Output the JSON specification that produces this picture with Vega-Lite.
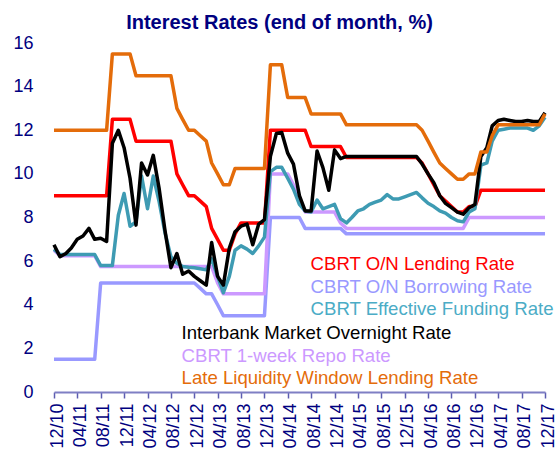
{
  "$schema": "https://vega.github.io/schema/vega-lite/v6.json",
  "width": 491,
  "height": 349,
  "autosize": "none",
  "padding": {"left": 54, "top": 43, "right": 13, "bottom": 63},
  "background": "white",
  "title": {"text": "Interest Rates (end of month, %)", "font": "Liberation Sans", "fontSize": 20, "fontWeight": "bold", "color": "#000080", "anchor": "middle", "frame": "group", "dx": -20, "offset": 1},
  "data": {"values": [
    {"date": "2010-12", "CBRT O/N Lending Rate": 9, "CBRT O/N Borrowing Rate": 1.5, "CBRT Effective Funding Rate": 6.55, "Interbank Market Overnight Rate": 6.75, "CBRT 1-week Repo Rate": 6.5, "Late Liquidity Window Lending Rate": 12},
    {"date": "2011-01", "CBRT O/N Lending Rate": 9, "CBRT O/N Borrowing Rate": 1.5, "CBRT Effective Funding Rate": 6.3, "Interbank Market Overnight Rate": 6.2, "CBRT 1-week Repo Rate": 6.25, "Late Liquidity Window Lending Rate": 12},
    {"date": "2011-02", "CBRT O/N Lending Rate": 9, "CBRT O/N Borrowing Rate": 1.5, "CBRT Effective Funding Rate": 6.3, "Interbank Market Overnight Rate": 6.35, "CBRT 1-week Repo Rate": 6.25, "Late Liquidity Window Lending Rate": 12},
    {"date": "2011-03", "CBRT O/N Lending Rate": 9, "CBRT O/N Borrowing Rate": 1.5, "CBRT Effective Funding Rate": 6.3, "Interbank Market Overnight Rate": 6.6, "CBRT 1-week Repo Rate": 6.25, "Late Liquidity Window Lending Rate": 12},
    {"date": "2011-04", "CBRT O/N Lending Rate": 9, "CBRT O/N Borrowing Rate": 1.5, "CBRT Effective Funding Rate": 6.3, "Interbank Market Overnight Rate": 7.0, "CBRT 1-week Repo Rate": 6.25, "Late Liquidity Window Lending Rate": 12},
    {"date": "2011-05", "CBRT O/N Lending Rate": 9, "CBRT O/N Borrowing Rate": 1.5, "CBRT Effective Funding Rate": 6.3, "Interbank Market Overnight Rate": 7.15, "CBRT 1-week Repo Rate": 6.25, "Late Liquidity Window Lending Rate": 12},
    {"date": "2011-06", "CBRT O/N Lending Rate": 9, "CBRT O/N Borrowing Rate": 1.5, "CBRT Effective Funding Rate": 6.3, "Interbank Market Overnight Rate": 7.5, "CBRT 1-week Repo Rate": 6.25, "Late Liquidity Window Lending Rate": 12},
    {"date": "2011-07", "CBRT O/N Lending Rate": 9, "CBRT O/N Borrowing Rate": 1.5, "CBRT Effective Funding Rate": 6.3, "Interbank Market Overnight Rate": 7.0, "CBRT 1-week Repo Rate": 6.25, "Late Liquidity Window Lending Rate": 12},
    {"date": "2011-08", "CBRT O/N Lending Rate": 9, "CBRT O/N Borrowing Rate": 5, "CBRT Effective Funding Rate": 5.8, "Interbank Market Overnight Rate": 7.05, "CBRT 1-week Repo Rate": 5.75, "Late Liquidity Window Lending Rate": 12},
    {"date": "2011-09", "CBRT O/N Lending Rate": 9, "CBRT O/N Borrowing Rate": 5, "CBRT Effective Funding Rate": 5.8, "Interbank Market Overnight Rate": 6.9, "CBRT 1-week Repo Rate": 5.75, "Late Liquidity Window Lending Rate": 12},
    {"date": "2011-10", "CBRT O/N Lending Rate": 12.5, "CBRT O/N Borrowing Rate": 5, "CBRT Effective Funding Rate": 5.8, "Interbank Market Overnight Rate": 11.4, "CBRT 1-week Repo Rate": 5.75, "Late Liquidity Window Lending Rate": 15.5},
    {"date": "2011-11", "CBRT O/N Lending Rate": 12.5, "CBRT O/N Borrowing Rate": 5, "CBRT Effective Funding Rate": 8.1, "Interbank Market Overnight Rate": 12.0, "CBRT 1-week Repo Rate": 5.75, "Late Liquidity Window Lending Rate": 15.5},
    {"date": "2011-12", "CBRT O/N Lending Rate": 12.5, "CBRT O/N Borrowing Rate": 5, "CBRT Effective Funding Rate": 9.1, "Interbank Market Overnight Rate": 11.2, "CBRT 1-week Repo Rate": 5.75, "Late Liquidity Window Lending Rate": 15.5},
    {"date": "2012-01", "CBRT O/N Lending Rate": 12.5, "CBRT O/N Borrowing Rate": 5, "CBRT Effective Funding Rate": 7.6, "Interbank Market Overnight Rate": 9.8, "CBRT 1-week Repo Rate": 5.75, "Late Liquidity Window Lending Rate": 15.5},
    {"date": "2012-02", "CBRT O/N Lending Rate": 11.5, "CBRT O/N Borrowing Rate": 5, "CBRT Effective Funding Rate": 7.8, "Interbank Market Overnight Rate": 7.65, "CBRT 1-week Repo Rate": 5.75, "Late Liquidity Window Lending Rate": 14.5},
    {"date": "2012-03", "CBRT O/N Lending Rate": 11.5, "CBRT O/N Borrowing Rate": 5, "CBRT Effective Funding Rate": 9.9, "Interbank Market Overnight Rate": 10.5, "CBRT 1-week Repo Rate": 5.75, "Late Liquidity Window Lending Rate": 14.5},
    {"date": "2012-04", "CBRT O/N Lending Rate": 11.5, "CBRT O/N Borrowing Rate": 5, "CBRT Effective Funding Rate": 8.4, "Interbank Market Overnight Rate": 9.95, "CBRT 1-week Repo Rate": 5.75, "Late Liquidity Window Lending Rate": 14.5},
    {"date": "2012-05", "CBRT O/N Lending Rate": 11.5, "CBRT O/N Borrowing Rate": 5, "CBRT Effective Funding Rate": 9.9, "Interbank Market Overnight Rate": 10.85, "CBRT 1-week Repo Rate": 5.75, "Late Liquidity Window Lending Rate": 14.5},
    {"date": "2012-06", "CBRT O/N Lending Rate": 11.5, "CBRT O/N Borrowing Rate": 5, "CBRT Effective Funding Rate": 8.7, "Interbank Market Overnight Rate": 9.3, "CBRT 1-week Repo Rate": 5.75, "Late Liquidity Window Lending Rate": 14.5},
    {"date": "2012-07", "CBRT O/N Lending Rate": 11.5, "CBRT O/N Borrowing Rate": 5, "CBRT Effective Funding Rate": 7.3, "Interbank Market Overnight Rate": 7.4, "CBRT 1-week Repo Rate": 5.75, "Late Liquidity Window Lending Rate": 14.5},
    {"date": "2012-08", "CBRT O/N Lending Rate": 11.5, "CBRT O/N Borrowing Rate": 5, "CBRT Effective Funding Rate": 6.2, "Interbank Market Overnight Rate": 5.7, "CBRT 1-week Repo Rate": 5.75, "Late Liquidity Window Lending Rate": 14.5},
    {"date": "2012-09", "CBRT O/N Lending Rate": 10, "CBRT O/N Borrowing Rate": 5, "CBRT Effective Funding Rate": 5.9, "Interbank Market Overnight Rate": 6.35, "CBRT 1-week Repo Rate": 5.75, "Late Liquidity Window Lending Rate": 13},
    {"date": "2012-10", "CBRT O/N Lending Rate": 9.5, "CBRT O/N Borrowing Rate": 5, "CBRT Effective Funding Rate": 5.75, "Interbank Market Overnight Rate": 5.4, "CBRT 1-week Repo Rate": 5.75, "Late Liquidity Window Lending Rate": 12.5},
    {"date": "2012-11", "CBRT O/N Lending Rate": 9, "CBRT O/N Borrowing Rate": 5, "CBRT Effective Funding Rate": 5.72, "Interbank Market Overnight Rate": 5.55, "CBRT 1-week Repo Rate": 5.75, "Late Liquidity Window Lending Rate": 12},
    {"date": "2012-12", "CBRT O/N Lending Rate": 9, "CBRT O/N Borrowing Rate": 5, "CBRT Effective Funding Rate": 5.7, "Interbank Market Overnight Rate": 5.3, "CBRT 1-week Repo Rate": 5.75, "Late Liquidity Window Lending Rate": 12},
    {"date": "2013-01", "CBRT O/N Lending Rate": 8.75, "CBRT O/N Borrowing Rate": 4.75, "CBRT Effective Funding Rate": 5.65, "Interbank Market Overnight Rate": 5.1, "CBRT 1-week Repo Rate": 5.75, "Late Liquidity Window Lending Rate": 11.75},
    {"date": "2013-02", "CBRT O/N Lending Rate": 8.5, "CBRT O/N Borrowing Rate": 4.5, "CBRT Effective Funding Rate": 5.6, "Interbank Market Overnight Rate": 4.9, "CBRT 1-week Repo Rate": 5.75, "Late Liquidity Window Lending Rate": 11.5},
    {"date": "2013-03", "CBRT O/N Lending Rate": 7.5, "CBRT O/N Borrowing Rate": 4.5, "CBRT Effective Funding Rate": 6.1, "Interbank Market Overnight Rate": 6.85, "CBRT 1-week Repo Rate": 5.75, "Late Liquidity Window Lending Rate": 10.5},
    {"date": "2013-04", "CBRT O/N Lending Rate": 7, "CBRT O/N Borrowing Rate": 4, "CBRT Effective Funding Rate": 5.3, "Interbank Market Overnight Rate": 5.3, "CBRT 1-week Repo Rate": 5.0, "Late Liquidity Window Lending Rate": 10},
    {"date": "2013-05", "CBRT O/N Lending Rate": 6.5, "CBRT O/N Borrowing Rate": 3.5, "CBRT Effective Funding Rate": 4.55, "Interbank Market Overnight Rate": 4.9, "CBRT 1-week Repo Rate": 4.5, "Late Liquidity Window Lending Rate": 9.5},
    {"date": "2013-06", "CBRT O/N Lending Rate": 6.5, "CBRT O/N Borrowing Rate": 3.5, "CBRT Effective Funding Rate": 5.3, "Interbank Market Overnight Rate": 6.6, "CBRT 1-week Repo Rate": 4.5, "Late Liquidity Window Lending Rate": 9.5},
    {"date": "2013-07", "CBRT O/N Lending Rate": 7.25, "CBRT O/N Borrowing Rate": 3.5, "CBRT Effective Funding Rate": 6.5, "Interbank Market Overnight Rate": 7.35, "CBRT 1-week Repo Rate": 4.5, "Late Liquidity Window Lending Rate": 10.25},
    {"date": "2013-08", "CBRT O/N Lending Rate": 7.75, "CBRT O/N Borrowing Rate": 3.5, "CBRT Effective Funding Rate": 6.7, "Interbank Market Overnight Rate": 7.6, "CBRT 1-week Repo Rate": 4.5, "Late Liquidity Window Lending Rate": 10.25},
    {"date": "2013-09", "CBRT O/N Lending Rate": 7.75, "CBRT O/N Borrowing Rate": 3.5, "CBRT Effective Funding Rate": 6.55, "Interbank Market Overnight Rate": 7.7, "CBRT 1-week Repo Rate": 4.5, "Late Liquidity Window Lending Rate": 10.25},
    {"date": "2013-10", "CBRT O/N Lending Rate": 7.75, "CBRT O/N Borrowing Rate": 3.5, "CBRT Effective Funding Rate": 6.35, "Interbank Market Overnight Rate": 6.75, "CBRT 1-week Repo Rate": 4.5, "Late Liquidity Window Lending Rate": 10.25},
    {"date": "2013-11", "CBRT O/N Lending Rate": 7.75, "CBRT O/N Borrowing Rate": 3.5, "CBRT Effective Funding Rate": 6.7, "Interbank Market Overnight Rate": 7.7, "CBRT 1-week Repo Rate": 4.5, "Late Liquidity Window Lending Rate": 10.25},
    {"date": "2013-12", "CBRT O/N Lending Rate": 7.75, "CBRT O/N Borrowing Rate": 3.5, "CBRT Effective Funding Rate": 7.1, "Interbank Market Overnight Rate": 7.9, "CBRT 1-week Repo Rate": 4.5, "Late Liquidity Window Lending Rate": 10.25},
    {"date": "2014-01", "CBRT O/N Lending Rate": 12, "CBRT O/N Borrowing Rate": 8, "CBRT Effective Funding Rate": 10.1, "Interbank Market Overnight Rate": 10.8, "CBRT 1-week Repo Rate": 10, "Late Liquidity Window Lending Rate": 15},
    {"date": "2014-02", "CBRT O/N Lending Rate": 12, "CBRT O/N Borrowing Rate": 8, "CBRT Effective Funding Rate": 10.3, "Interbank Market Overnight Rate": 11.85, "CBRT 1-week Repo Rate": 10, "Late Liquidity Window Lending Rate": 15},
    {"date": "2014-03", "CBRT O/N Lending Rate": 12, "CBRT O/N Borrowing Rate": 8, "CBRT Effective Funding Rate": 10.3, "Interbank Market Overnight Rate": 11.9, "CBRT 1-week Repo Rate": 10, "Late Liquidity Window Lending Rate": 15},
    {"date": "2014-04", "CBRT O/N Lending Rate": 12, "CBRT O/N Borrowing Rate": 8, "CBRT Effective Funding Rate": 9.8, "Interbank Market Overnight Rate": 10.95, "CBRT 1-week Repo Rate": 10, "Late Liquidity Window Lending Rate": 13.5},
    {"date": "2014-05", "CBRT O/N Lending Rate": 12, "CBRT O/N Borrowing Rate": 8, "CBRT Effective Funding Rate": 9.3, "Interbank Market Overnight Rate": 10.45, "CBRT 1-week Repo Rate": 9.5, "Late Liquidity Window Lending Rate": 13.5},
    {"date": "2014-06", "CBRT O/N Lending Rate": 12, "CBRT O/N Borrowing Rate": 8, "CBRT Effective Funding Rate": 8.6, "Interbank Market Overnight Rate": 9.0, "CBRT 1-week Repo Rate": 8.75, "Late Liquidity Window Lending Rate": 13.5},
    {"date": "2014-07", "CBRT O/N Lending Rate": 12, "CBRT O/N Borrowing Rate": 7.5, "CBRT Effective Funding Rate": 8.3, "Interbank Market Overnight Rate": 8.3, "CBRT 1-week Repo Rate": 8.25, "Late Liquidity Window Lending Rate": 13.5},
    {"date": "2014-08", "CBRT O/N Lending Rate": 11.25, "CBRT O/N Borrowing Rate": 7.5, "CBRT Effective Funding Rate": 8.25, "Interbank Market Overnight Rate": 8.3, "CBRT 1-week Repo Rate": 8.25, "Late Liquidity Window Lending Rate": 12.75},
    {"date": "2014-09", "CBRT O/N Lending Rate": 11.25, "CBRT O/N Borrowing Rate": 7.5, "CBRT Effective Funding Rate": 8.8, "Interbank Market Overnight Rate": 11.05, "CBRT 1-week Repo Rate": 8.25, "Late Liquidity Window Lending Rate": 12.75},
    {"date": "2014-10", "CBRT O/N Lending Rate": 11.25, "CBRT O/N Borrowing Rate": 7.5, "CBRT Effective Funding Rate": 8.4, "Interbank Market Overnight Rate": 10.3, "CBRT 1-week Repo Rate": 8.25, "Late Liquidity Window Lending Rate": 12.75},
    {"date": "2014-11", "CBRT O/N Lending Rate": 11.25, "CBRT O/N Borrowing Rate": 7.5, "CBRT Effective Funding Rate": 8.5, "Interbank Market Overnight Rate": 9.25, "CBRT 1-week Repo Rate": 8.25, "Late Liquidity Window Lending Rate": 12.75},
    {"date": "2014-12", "CBRT O/N Lending Rate": 11.25, "CBRT O/N Borrowing Rate": 7.5, "CBRT Effective Funding Rate": 8.6, "Interbank Market Overnight Rate": 11.1, "CBRT 1-week Repo Rate": 8.25, "Late Liquidity Window Lending Rate": 12.75},
    {"date": "2015-01", "CBRT O/N Lending Rate": 11.25, "CBRT O/N Borrowing Rate": 7.5, "CBRT Effective Funding Rate": 7.95, "Interbank Market Overnight Rate": 10.7, "CBRT 1-week Repo Rate": 7.75, "Late Liquidity Window Lending Rate": 12.75},
    {"date": "2015-02", "CBRT O/N Lending Rate": 10.75, "CBRT O/N Borrowing Rate": 7.25, "CBRT Effective Funding Rate": 7.75, "Interbank Market Overnight Rate": 10.8, "CBRT 1-week Repo Rate": 7.5, "Late Liquidity Window Lending Rate": 12.25},
    {"date": "2015-03", "CBRT O/N Lending Rate": 10.75, "CBRT O/N Borrowing Rate": 7.25, "CBRT Effective Funding Rate": 8.0, "Interbank Market Overnight Rate": 10.8, "CBRT 1-week Repo Rate": 7.5, "Late Liquidity Window Lending Rate": 12.25},
    {"date": "2015-04", "CBRT O/N Lending Rate": 10.75, "CBRT O/N Borrowing Rate": 7.25, "CBRT Effective Funding Rate": 8.3, "Interbank Market Overnight Rate": 10.8, "CBRT 1-week Repo Rate": 7.5, "Late Liquidity Window Lending Rate": 12.25},
    {"date": "2015-05", "CBRT O/N Lending Rate": 10.75, "CBRT O/N Borrowing Rate": 7.25, "CBRT Effective Funding Rate": 8.4, "Interbank Market Overnight Rate": 10.8, "CBRT 1-week Repo Rate": 7.5, "Late Liquidity Window Lending Rate": 12.25},
    {"date": "2015-06", "CBRT O/N Lending Rate": 10.75, "CBRT O/N Borrowing Rate": 7.25, "CBRT Effective Funding Rate": 8.6, "Interbank Market Overnight Rate": 10.8, "CBRT 1-week Repo Rate": 7.5, "Late Liquidity Window Lending Rate": 12.25},
    {"date": "2015-07", "CBRT O/N Lending Rate": 10.75, "CBRT O/N Borrowing Rate": 7.25, "CBRT Effective Funding Rate": 8.7, "Interbank Market Overnight Rate": 10.8, "CBRT 1-week Repo Rate": 7.5, "Late Liquidity Window Lending Rate": 12.25},
    {"date": "2015-08", "CBRT O/N Lending Rate": 10.75, "CBRT O/N Borrowing Rate": 7.25, "CBRT Effective Funding Rate": 8.8, "Interbank Market Overnight Rate": 10.8, "CBRT 1-week Repo Rate": 7.5, "Late Liquidity Window Lending Rate": 12.25},
    {"date": "2015-09", "CBRT O/N Lending Rate": 10.75, "CBRT O/N Borrowing Rate": 7.25, "CBRT Effective Funding Rate": 9.05, "Interbank Market Overnight Rate": 10.8, "CBRT 1-week Repo Rate": 7.5, "Late Liquidity Window Lending Rate": 12.25},
    {"date": "2015-10", "CBRT O/N Lending Rate": 10.75, "CBRT O/N Borrowing Rate": 7.25, "CBRT Effective Funding Rate": 8.85, "Interbank Market Overnight Rate": 10.8, "CBRT 1-week Repo Rate": 7.5, "Late Liquidity Window Lending Rate": 12.25},
    {"date": "2015-11", "CBRT O/N Lending Rate": 10.75, "CBRT O/N Borrowing Rate": 7.25, "CBRT Effective Funding Rate": 8.85, "Interbank Market Overnight Rate": 10.8, "CBRT 1-week Repo Rate": 7.5, "Late Liquidity Window Lending Rate": 12.25},
    {"date": "2015-12", "CBRT O/N Lending Rate": 10.75, "CBRT O/N Borrowing Rate": 7.25, "CBRT Effective Funding Rate": 8.95, "Interbank Market Overnight Rate": 10.8, "CBRT 1-week Repo Rate": 7.5, "Late Liquidity Window Lending Rate": 12.25},
    {"date": "2016-01", "CBRT O/N Lending Rate": 10.75, "CBRT O/N Borrowing Rate": 7.25, "CBRT Effective Funding Rate": 9.05, "Interbank Market Overnight Rate": 10.8, "CBRT 1-week Repo Rate": 7.5, "Late Liquidity Window Lending Rate": 12.25},
    {"date": "2016-02", "CBRT O/N Lending Rate": 10.75, "CBRT O/N Borrowing Rate": 7.25, "CBRT Effective Funding Rate": 9.15, "Interbank Market Overnight Rate": 10.8, "CBRT 1-week Repo Rate": 7.5, "Late Liquidity Window Lending Rate": 12.25},
    {"date": "2016-03", "CBRT O/N Lending Rate": 10.5, "CBRT O/N Borrowing Rate": 7.25, "CBRT Effective Funding Rate": 8.9, "Interbank Market Overnight Rate": 10.45, "CBRT 1-week Repo Rate": 7.5, "Late Liquidity Window Lending Rate": 12},
    {"date": "2016-04", "CBRT O/N Lending Rate": 10, "CBRT O/N Borrowing Rate": 7.25, "CBRT Effective Funding Rate": 8.65, "Interbank Market Overnight Rate": 10.0, "CBRT 1-week Repo Rate": 7.5, "Late Liquidity Window Lending Rate": 11.5},
    {"date": "2016-05", "CBRT O/N Lending Rate": 9.5, "CBRT O/N Borrowing Rate": 7.25, "CBRT Effective Funding Rate": 8.5, "Interbank Market Overnight Rate": 9.6, "CBRT 1-week Repo Rate": 7.5, "Late Liquidity Window Lending Rate": 11},
    {"date": "2016-06", "CBRT O/N Lending Rate": 9, "CBRT O/N Borrowing Rate": 7.25, "CBRT Effective Funding Rate": 8.3, "Interbank Market Overnight Rate": 9.0, "CBRT 1-week Repo Rate": 7.5, "Late Liquidity Window Lending Rate": 10.5},
    {"date": "2016-07", "CBRT O/N Lending Rate": 8.75, "CBRT O/N Borrowing Rate": 7.25, "CBRT Effective Funding Rate": 8.2, "Interbank Market Overnight Rate": 8.65, "CBRT 1-week Repo Rate": 7.5, "Late Liquidity Window Lending Rate": 10.25},
    {"date": "2016-08", "CBRT O/N Lending Rate": 8.5, "CBRT O/N Borrowing Rate": 7.25, "CBRT Effective Funding Rate": 8.0, "Interbank Market Overnight Rate": 8.45, "CBRT 1-week Repo Rate": 7.5, "Late Liquidity Window Lending Rate": 10},
    {"date": "2016-09", "CBRT O/N Lending Rate": 8.25, "CBRT O/N Borrowing Rate": 7.25, "CBRT Effective Funding Rate": 7.85, "Interbank Market Overnight Rate": 8.25, "CBRT 1-week Repo Rate": 7.5, "Late Liquidity Window Lending Rate": 9.75},
    {"date": "2016-10", "CBRT O/N Lending Rate": 8.25, "CBRT O/N Borrowing Rate": 7.25, "CBRT Effective Funding Rate": 7.8, "Interbank Market Overnight Rate": 8.15, "CBRT 1-week Repo Rate": 7.5, "Late Liquidity Window Lending Rate": 9.75},
    {"date": "2016-11", "CBRT O/N Lending Rate": 8.5, "CBRT O/N Borrowing Rate": 7.25, "CBRT Effective Funding Rate": 8.25, "Interbank Market Overnight Rate": 8.45, "CBRT 1-week Repo Rate": 8, "Late Liquidity Window Lending Rate": 10},
    {"date": "2016-12", "CBRT O/N Lending Rate": 8.5, "CBRT O/N Borrowing Rate": 7.25, "CBRT Effective Funding Rate": 8.4, "Interbank Market Overnight Rate": 8.6, "CBRT 1-week Repo Rate": 8, "Late Liquidity Window Lending Rate": 10},
    {"date": "2017-01", "CBRT O/N Lending Rate": 9.25, "CBRT O/N Borrowing Rate": 7.25, "CBRT Effective Funding Rate": 10.4, "Interbank Market Overnight Rate": 10.8, "CBRT 1-week Repo Rate": 8, "Late Liquidity Window Lending Rate": 11},
    {"date": "2017-02", "CBRT O/N Lending Rate": 9.25, "CBRT O/N Borrowing Rate": 7.25, "CBRT Effective Funding Rate": 10.5, "Interbank Market Overnight Rate": 11.2, "CBRT 1-week Repo Rate": 8, "Late Liquidity Window Lending Rate": 11},
    {"date": "2017-03", "CBRT O/N Lending Rate": 9.25, "CBRT O/N Borrowing Rate": 7.25, "CBRT Effective Funding Rate": 11.5, "Interbank Market Overnight Rate": 12.2, "CBRT 1-week Repo Rate": 8, "Late Liquidity Window Lending Rate": 11.75},
    {"date": "2017-04", "CBRT O/N Lending Rate": 9.25, "CBRT O/N Borrowing Rate": 7.25, "CBRT Effective Funding Rate": 12.0, "Interbank Market Overnight Rate": 12.45, "CBRT 1-week Repo Rate": 8, "Late Liquidity Window Lending Rate": 12.25},
    {"date": "2017-05", "CBRT O/N Lending Rate": 9.25, "CBRT O/N Borrowing Rate": 7.25, "CBRT Effective Funding Rate": 12.05, "Interbank Market Overnight Rate": 12.5, "CBRT 1-week Repo Rate": 8, "Late Liquidity Window Lending Rate": 12.25},
    {"date": "2017-06", "CBRT O/N Lending Rate": 9.25, "CBRT O/N Borrowing Rate": 7.25, "CBRT Effective Funding Rate": 12.1, "Interbank Market Overnight Rate": 12.45, "CBRT 1-week Repo Rate": 8, "Late Liquidity Window Lending Rate": 12.25},
    {"date": "2017-07", "CBRT O/N Lending Rate": 9.25, "CBRT O/N Borrowing Rate": 7.25, "CBRT Effective Funding Rate": 12.1, "Interbank Market Overnight Rate": 12.4, "CBRT 1-week Repo Rate": 8, "Late Liquidity Window Lending Rate": 12.25},
    {"date": "2017-08", "CBRT O/N Lending Rate": 9.25, "CBRT O/N Borrowing Rate": 7.25, "CBRT Effective Funding Rate": 12.1, "Interbank Market Overnight Rate": 12.4, "CBRT 1-week Repo Rate": 8, "Late Liquidity Window Lending Rate": 12.25},
    {"date": "2017-09", "CBRT O/N Lending Rate": 9.25, "CBRT O/N Borrowing Rate": 7.25, "CBRT Effective Funding Rate": 12.1, "Interbank Market Overnight Rate": 12.45, "CBRT 1-week Repo Rate": 8, "Late Liquidity Window Lending Rate": 12.25},
    {"date": "2017-10", "CBRT O/N Lending Rate": 9.25, "CBRT O/N Borrowing Rate": 7.25, "CBRT Effective Funding Rate": 12.0, "Interbank Market Overnight Rate": 12.4, "CBRT 1-week Repo Rate": 8, "Late Liquidity Window Lending Rate": 12.25},
    {"date": "2017-11", "CBRT O/N Lending Rate": 9.25, "CBRT O/N Borrowing Rate": 7.25, "CBRT Effective Funding Rate": 12.2, "Interbank Market Overnight Rate": 12.4, "CBRT 1-week Repo Rate": 8, "Late Liquidity Window Lending Rate": 12.25},
    {"date": "2017-12", "CBRT O/N Lending Rate": 9.25, "CBRT O/N Borrowing Rate": 7.25, "CBRT Effective Funding Rate": 12.6, "Interbank Market Overnight Rate": 12.8, "CBRT 1-week Repo Rate": 8, "Late Liquidity Window Lending Rate": 12.75}
  ]},
  "transform": [
    {"fold": ["CBRT O/N Lending Rate", "CBRT O/N Borrowing Rate", "CBRT Effective Funding Rate", "Interbank Market Overnight Rate", "CBRT 1-week Repo Rate", "Late Liquidity Window Lending Rate"], "as": ["series", "rate"]}
  ],
  "encoding": {
    "x": {
      "field": "date", "type": "temporal",
      "scale": {"domain": [{"year": 2010, "month": 12, "date": 1}, {"year": 2017, "month": 12, "date": 1}]},
      "axis": {
        "title": null, "grid": false, "format": "%m/%y", "labelAngle": -90,
        "values": [
          {"year": 2010, "month": 12, "date": 1}, {"year": 2011, "month": 4, "date": 1}, {"year": 2011, "month": 8, "date": 1},
          {"year": 2011, "month": 12, "date": 1}, {"year": 2012, "month": 4, "date": 1}, {"year": 2012, "month": 8, "date": 1},
          {"year": 2012, "month": 12, "date": 1}, {"year": 2013, "month": 4, "date": 1}, {"year": 2013, "month": 8, "date": 1},
          {"year": 2013, "month": 12, "date": 1}, {"year": 2014, "month": 4, "date": 1}, {"year": 2014, "month": 8, "date": 1},
          {"year": 2014, "month": 12, "date": 1}, {"year": 2015, "month": 4, "date": 1}, {"year": 2015, "month": 8, "date": 1},
          {"year": 2015, "month": 12, "date": 1}, {"year": 2016, "month": 4, "date": 1}, {"year": 2016, "month": 8, "date": 1},
          {"year": 2016, "month": 12, "date": 1}, {"year": 2017, "month": 4, "date": 1}, {"year": 2017, "month": 8, "date": 1},
          {"year": 2017, "month": 12, "date": 1}
        ],
        "labelFont": "Liberation Sans", "labelFontSize": 18, "labelColor": "#000080",
        "labelPadding": 5, "labelOffset": 3, "labelFlush": false, "labelOverlap": false, "labelBound": false,
        "domainColor": "#7F7FC4", "domainWidth": 2, "tickColor": "#5C5CB0", "tickWidth": 1.5, "tickSize": 6
      }
    },
    "y": {
      "field": "rate", "type": "quantitative",
      "scale": {"domain": [0, 16], "nice": false},
      "axis": {
        "title": null, "grid": false, "domain": false, "ticks": false,
        "values": [0, 2, 4, 6, 8, 10, 12, 14, 16],
        "labelFont": "Liberation Sans", "labelFontSize": 18, "labelColor": "#000080", "labelPadding": 21
      }
    }
  },
  "layer": [
    {
      "transform": [{"filter": {"field": "series", "oneOf": ["CBRT O/N Lending Rate", "CBRT O/N Borrowing Rate"]}}],
      "mark": {"type": "line", "strokeWidth": 3.5, "strokeJoin": "round"},
      "encoding": {
        "color": {
          "field": "series", "type": "nominal",
          "scale": {"domain": ["CBRT O/N Lending Rate", "CBRT O/N Borrowing Rate", "CBRT Effective Funding Rate"], "range": ["#FF0000", "#9999FF", "#3E9BB3"]},
          "legend": {"title": null, "orient": "none", "legendX": 238, "legendY": 212, "labelColor": {"expr": "datum.value == 'CBRT O/N Lending Rate' ? '#FF0000' : datum.value == 'CBRT O/N Borrowing Rate' ? '#9999FF' : '#4BACC6'"}}
        }
      }
    },
    {
      "transform": [{"filter": {"field": "series", "oneOf": ["CBRT 1-week Repo Rate"]}}],
      "mark": {"type": "line", "strokeWidth": 3.5, "strokeJoin": "round"},
      "encoding": {
        "stroke": {
          "field": "series", "type": "nominal",
          "scale": {"domain": ["Interbank Market Overnight Rate", "CBRT 1-week Repo Rate", "Late Liquidity Window Lending Rate"], "range": ["#000000", "#CC99FF", "#E46C0A"]},
          "legend": {"title": null, "orient": "none", "legendX": 109, "legendY": 281, "labelColor": {"expr": "datum.value == 'Interbank Market Overnight Rate' ? '#000000' : datum.value == 'CBRT 1-week Repo Rate' ? '#CC99FF' : '#E46C0A'"}}
        }
      }
    },
    {
      "transform": [{"filter": {"field": "series", "oneOf": ["CBRT Effective Funding Rate"]}}],
      "mark": {"type": "line", "strokeWidth": 3.5, "strokeJoin": "round"},
      "encoding": {
        "color": {
          "field": "series", "type": "nominal",
          "scale": {"domain": ["CBRT O/N Lending Rate", "CBRT O/N Borrowing Rate", "CBRT Effective Funding Rate"], "range": ["#FF0000", "#9999FF", "#3E9BB3"]},
          "legend": {"title": null, "orient": "none", "legendX": 238, "legendY": 212, "labelColor": {"expr": "datum.value == 'CBRT O/N Lending Rate' ? '#FF0000' : datum.value == 'CBRT O/N Borrowing Rate' ? '#9999FF' : '#4BACC6'"}}
        }
      }
    },
    {
      "transform": [{"filter": {"field": "series", "oneOf": ["Interbank Market Overnight Rate", "Late Liquidity Window Lending Rate"]}}],
      "mark": {"type": "line", "strokeWidth": 3.5, "strokeJoin": "round"},
      "encoding": {
        "stroke": {
          "field": "series", "type": "nominal",
          "scale": {"domain": ["Interbank Market Overnight Rate", "CBRT 1-week Repo Rate", "Late Liquidity Window Lending Rate"], "range": ["#000000", "#CC99FF", "#E46C0A"]},
          "legend": {"title": null, "orient": "none", "legendX": 109, "legendY": 281, "labelColor": {"expr": "datum.value == 'Interbank Market Overnight Rate' ? '#000000' : datum.value == 'CBRT 1-week Repo Rate' ? '#CC99FF' : '#E46C0A'"}}
        }
      }
    }
  ],
  "config": {
    "view": {"stroke": null},
    "legend": {"labelFont": "Liberation Sans", "labelFontSize": 18.6, "labelLimit": 500, "labelOffset": 0, "symbolSize": 0, "symbolStrokeWidth": 0, "symbolOpacity": 0, "padding": 0, "rowPadding": 3.4}
  }
}
